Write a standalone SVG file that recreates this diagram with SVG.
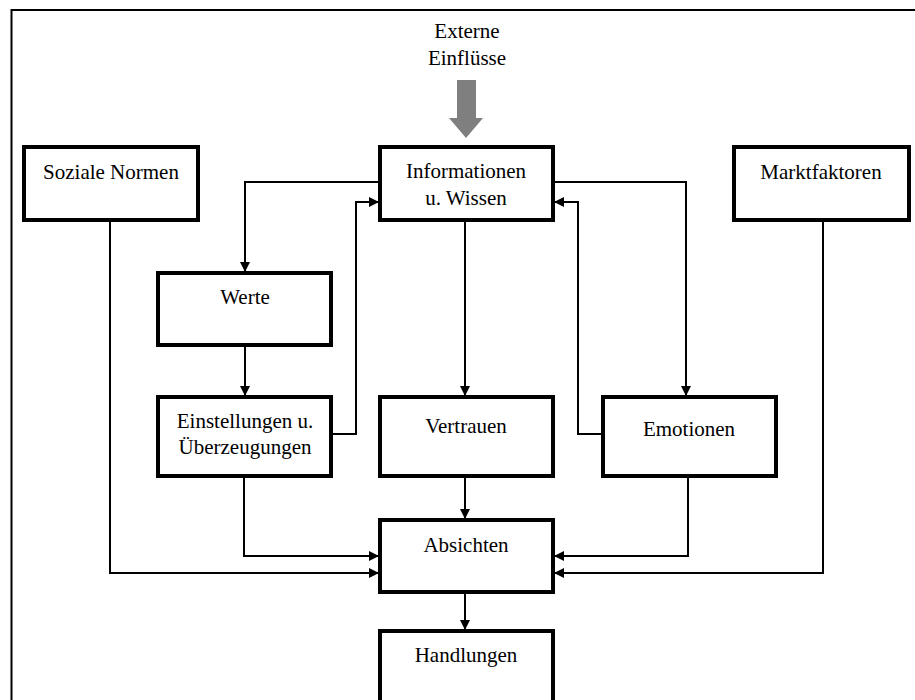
<svg xmlns="http://www.w3.org/2000/svg" width="915" height="700" viewBox="0 0 915 700">
<style>
.box{fill:#fff;stroke:#000;stroke-width:4}
.t{font-family:"Liberation Serif","Times New Roman",serif;font-size:21px;fill:#000;text-anchor:middle}
.c{fill:none;stroke:#000;stroke-width:2}
</style>
<defs>
<marker id="ah" markerUnits="userSpaceOnUse" markerWidth="12" markerHeight="10" refX="10" refY="5" orient="auto">
<path d="M0,0 L10,5 L0,10 Z" fill="#000"/>
</marker>
</defs>
<rect x="0" y="0" width="915" height="700" fill="#fff"/>
<rect x="11.5" y="10" width="920" height="720" fill="none" stroke="#000" stroke-width="2"/>
<g id="extern">
<text class="t" x="467" y="38">Externe</text>
<text class="t" x="467" y="65">Einflüsse</text>
<path d="M457,80 H476 V118 H483 L466,138 L449,118 H457 Z" fill="#7f7f7f"/>
</g>
<g id="connectors">
<path class="c" d="M380,182 H245 V272" marker-end="url(#ah)"/>
<path class="c" d="M332,434 H356 V202 H379" marker-end="url(#ah)"/>
<path class="c" d="M553,182 H686 V396" marker-end="url(#ah)"/>
<path class="c" d="M603,434 H578 V202 H554" marker-end="url(#ah)"/>
<path class="c" d="M465,220 V396" marker-end="url(#ah)"/>
<path class="c" d="M245,345 V396" marker-end="url(#ah)"/>
<path class="c" d="M465,476 V519" marker-end="url(#ah)"/>
<path class="c" d="M244,476 V556 H379" marker-end="url(#ah)"/>
<path class="c" d="M110,220 V573 H379" marker-end="url(#ah)"/>
<path class="c" d="M688,478 V556 H554" marker-end="url(#ah)"/>
<path class="c" d="M823,220 V573 H554" marker-end="url(#ah)"/>
<path class="c" d="M465,592 V630" marker-end="url(#ah)"/>
</g>
<g id="soziale">
<rect class="box" x="24" y="147" width="174" height="73"/>
<text class="t" x="111" y="179">Soziale Normen</text>
</g>
<g id="info">
<rect class="box" x="380" y="147" width="173" height="73"/>
<text class="t" x="466" y="178">Informationen</text>
<text class="t" x="466" y="205">u. Wissen</text>
</g>
<g id="markt">
<rect class="box" x="734" y="147" width="175" height="73"/>
<text class="t" x="821" y="179">Marktfaktoren</text>
</g>
<g id="werte">
<rect class="box" x="158" y="273" width="173" height="72"/>
<text class="t" x="245" y="304">Werte</text>
</g>
<g id="einstellungen">
<rect class="box" x="158" y="397" width="173" height="79"/>
<text class="t" x="245" y="428">Einstellungen u.</text>
<text class="t" x="245" y="454">Überzeugungen</text>
</g>
<g id="vertrauen">
<rect class="box" x="380" y="397" width="173" height="79"/>
<text class="t" x="466" y="433">Vertrauen</text>
</g>
<g id="emotionen">
<rect class="box" x="603" y="397" width="173" height="79"/>
<text class="t" x="689" y="436">Emotionen</text>
</g>
<g id="absichten">
<rect class="box" x="380" y="520" width="173" height="72"/>
<text class="t" x="466" y="552">Absichten</text>
</g>
<g id="handlungen">
<rect class="box" x="380" y="631" width="173" height="90"/>
<text class="t" x="466" y="662">Handlungen</text>
</g>
</svg>
